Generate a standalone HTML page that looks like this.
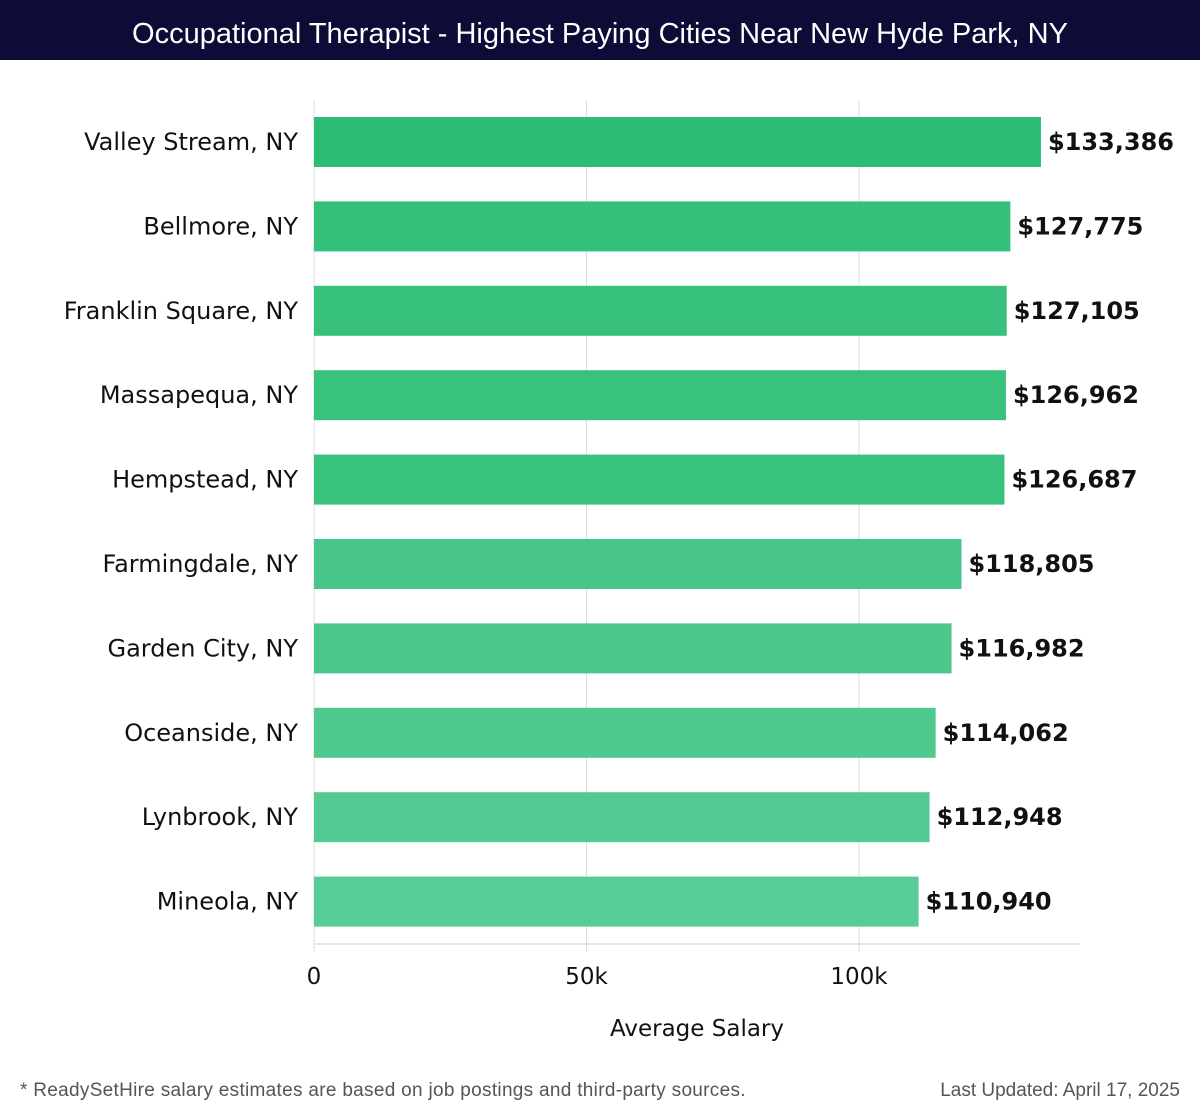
<!DOCTYPE html>
<html><head><meta charset="utf-8"><style>
body{margin:0;width:1200px;height:1120px;background:#fff;font-family:"DejaVu Sans","Liberation Sans",sans-serif;position:relative;overflow:hidden}
.title{position:absolute;left:0;top:0;width:1200px;height:60px;background:#0c0c36;color:#fff;font-size:29px;line-height:68px;text-align:center;font-family:"Liberation Sans",sans-serif}
.foot{position:absolute;top:1080px;font-size:19px;letter-spacing:0.3px;color:#555;font-family:"Liberation Sans",sans-serif}
</style></head><body>
<div class="title">Occupational Therapist - Highest Paying Cities Near New Hyde Park, NY</div>
<svg id="chart" width="1200" height="1120" style="position:absolute;left:0;top:0"></svg>
<div class="foot" style="left:20px">* ReadySetHire salary estimates are based on job postings and third-party sources.</div>
<div class="foot" style="right:20px;letter-spacing:0">Last Updated: April 17, 2025</div>
<script>
const cities=["Valley Stream, NY","Bellmore, NY","Franklin Square, NY","Massapequa, NY","Hempstead, NY","Farmingdale, NY","Garden City, NY","Oceanside, NY","Lynbrook, NY","Mineola, NY"];
const salaries=[133386,127775,127105,126962,126687,118805,116982,114062,112948,110940];
const tickValues=[0,50000,100000];
const tickLabels=["0","50k","100k"];
const colors=['#2bbd73','#33c07a','#37c17c','#38c27d','#39c27d','#48c68a','#4bc78c','#50c98f','#53ca92','#58cc97'];
const NS="http://www.w3.org/2000/svg";
const svg=document.getElementById('chart');
const x0=314, pxPer=272.5/50000;
const xs=v=>x0+v*pxPer;
const yTop=117, pitch=84.4, bh=50;
const ys=i=>yTop+i*pitch;
function mk(t,a){const e=document.createElementNS(NS,t);for(const k in a)e.setAttribute(k,a[k]);svg.appendChild(e);return e;}
tickValues.forEach((v,i)=>{
  const g=mk('line',{x1:xs(v),x2:xs(v),y1:100,y2:952,stroke:'#ddd','stroke-width':1});
  
  
  const t=mk('text',{x:xs(v),y:984,'text-anchor':'middle','font-size':23,fill:'#111'});
  t.textContent=tickLabels[i];
  
  
});
const ax=mk('line',{x1:314,x2:1080,y1:944,y2:944,stroke:'#ccc','stroke-width':1});


salaries.forEach((v,i)=>{
  const y=ys(i);
  const r=mk('rect',{x:x0,y:y,width:xs(v)-x0,height:bh,fill:colors[i]});
  
  
  const l=mk('text',{x:298,y:y+bh/2+8,'text-anchor':'end','font-size':24,fill:'#111'});
  l.textContent=cities[i];
  
  
  const vl=mk('text',{x:xs(v)+7,y:y+bh/2+8,'font-size':24,'font-weight':'bold',fill:'#111'});
  vl.textContent='$'+v.toLocaleString('en-US');
  
  
});
const at=mk('text',{x:697,y:1036,'text-anchor':'middle','font-size':23,fill:'#111'});
at.textContent='Average Salary';


</script>
</body></html>
